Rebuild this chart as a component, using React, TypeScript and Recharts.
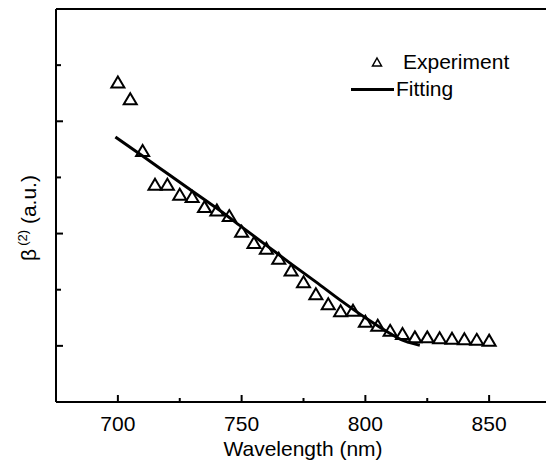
import React from "react"
import {
  ComposedChart,
  Customized,
  Line,
  ReferenceLine,
  Scatter,
  XAxis,
  YAxis,
} from "recharts"

const FONT = "Liberation Sans, Arial, sans-serif"

// experiment: wavelength (nm) vs beta(2) (a.u.)
const expWavelength = [
  700, 705, 710, 715, 720, 725, 730, 735, 740, 745, 750, 755, 760, 765, 770, 775,
  780, 785, 790, 795, 800, 805, 810, 815, 820, 825, 830, 835, 840, 845, 850,
]
const expBeta = [
  2.35, 2.2, 1.74, 1.44, 1.44, 1.35, 1.33, 1.24, 1.21, 1.16, 1.02, 0.92, 0.87, 0.78,
  0.675, 0.57, 0.465, 0.375, 0.313, 0.318, 0.22, 0.183, 0.138, 0.11, 0.08, 0.08,
  0.073, 0.067, 0.064, 0.058, 0.051,
]

// fitting curve
const fitWavelength = [699, 710, 720, 730, 740, 750, 760, 770, 780, 790, 800, 810, 815, 822]
const fitBeta = [1.86, 1.69, 1.535, 1.38, 1.225, 1.06, 0.895, 0.73, 0.57, 0.405, 0.25, 0.11, 0.05, 0.005]

const xTicks = [700, 725, 750, 775, 800, 825, 850]
const yTicks = [0, 0.5, 1, 1.5, 2, 2.5]

const expData = expWavelength.map((x, i) => ({ x, y: expBeta[i] }))
const fitData = fitWavelength.map((x, i) => ({ x, y: fitBeta[i] }))

function Triangle(props: any) {
  const { cx, cy } = props
  if (cx == null || cy == null) return null
  return (
    <path
      d={`M${cx},${cy - 5.5} L${cx + 6.5},${cy + 5.5} L${cx - 6.5},${cy + 5.5} Z`}
      fill="none"
      stroke="#000"
      strokeWidth={2}
    />
  )
}

function XTick(props: any) {
  const { x, y, payload } = props
  const major = payload.value % 50 === 0
  return (
    <g>
      <line x1={x} x2={x} y1={y} y2={y - (major ? 7 : 4)} stroke="#000" strokeWidth={2} />
      {major && (
        <text x={x} y={y + 29} textAnchor="middle" fontSize={21} fontFamily={FONT} fill="#000">
          {payload.value}
        </text>
      )}
    </g>
  )
}

function YTick(props: any) {
  const { x, y, payload } = props
  const major = payload.value % 1 === 0
  return <line x1={x} x2={x + (major ? 7 : 5)} y1={y} y2={y} stroke="#000" strokeWidth={2} />
}

function Extras() {
  return (
    <g fontFamily={FONT} fill="#000">
      <text transform="translate(36,218) rotate(-90)" textAnchor="middle" fontSize={21}>
        β
        <tspan fontSize={13} dx={3} dy={-9}>
          (2)
        </tspan>
        <tspan dy={9}> (a.u.)</tspan>
      </text>
      <text x={303} y={456} textAnchor="middle" fontSize={21}>
        Wavelength (nm)
      </text>
      {/* legend */}
      <path d="M377,58 L381.5,66 L372.5,66 Z" fill="none" stroke="#000" strokeWidth={1.5} />
      <text x={403} y={68.5} fontSize={21}>
        Experiment
      </text>
      <line x1={351} x2={394} y1={89.5} y2={89.5} stroke="#000" strokeWidth={3} />
      <text x={396} y={96} fontSize={21}>
        Fitting
      </text>
    </g>
  )
}

export default function App() {
  return (
    <div
      style={{
        position: "absolute",
        left: 0,
        top: 0,
        width: 546,
        height: 466,
        overflow: "hidden",
        background: "#fff",
      }}
    >
      <ComposedChart width={552} height={466} margin={{ top: 9, right: 1, bottom: 0, left: 0 }}>
        <XAxis
          dataKey="x"
          type="number"
          domain={[675, 875]}
          ticks={xTicks}
          interval={0}
          height={64}
          tickSize={0}
          tickMargin={0}
          tickLine={false}
          axisLine={{ stroke: "#000", strokeWidth: 2 }}
          tick={<XTick />}
        />
        <YAxis
          type="number"
          domain={[-0.5, 3]}
          ticks={yTicks}
          interval={0}
          width={56}
          tickSize={0}
          tickMargin={0}
          tickLine={false}
          axisLine={{ stroke: "#000", strokeWidth: 2 }}
          tick={<YTick />}
        />
        <ReferenceLine y={3} stroke="#000" strokeWidth={2} />
        <Line
          data={fitData}
          dataKey="y"
          type="monotone"
          stroke="#000"
          strokeWidth={3}
          dot={false}
          activeDot={false}
          isAnimationActive={false}
        />
        <Scatter data={expData} dataKey="y" shape={<Triangle />} isAnimationActive={false} />
        <Customized component={<Extras />} />
      </ComposedChart>
    </div>
  )
}
